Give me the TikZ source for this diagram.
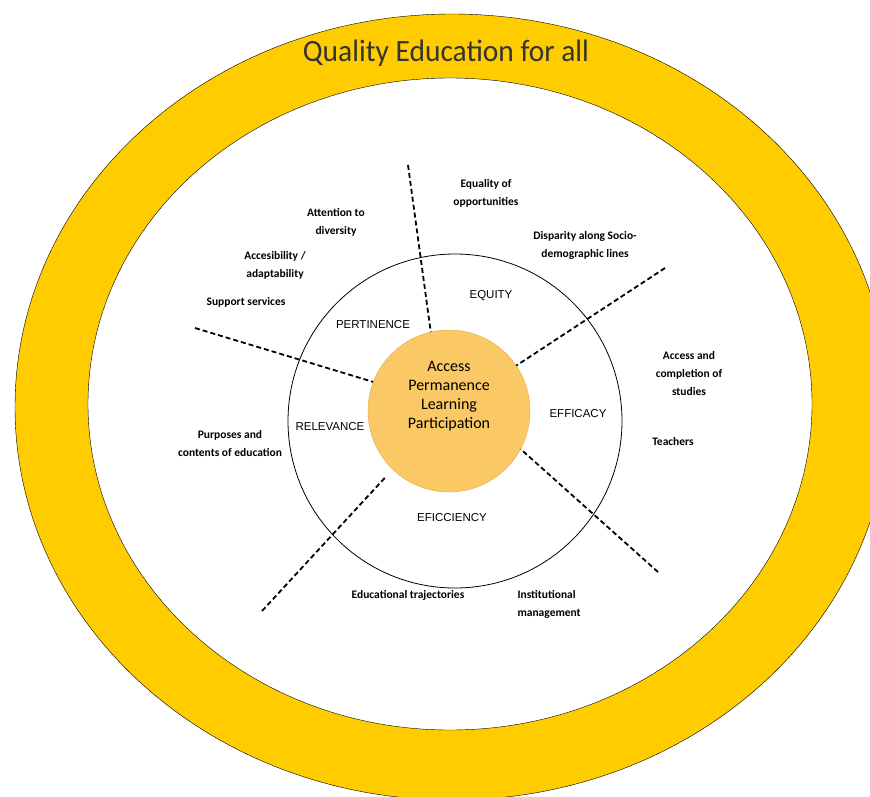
\documentclass[tikz,border=0pt]{standalone}
\usepackage{fontspec}
\setmainfont{Carlito}
\newfontfamily\capsfont{Liberation Sans}
\definecolor{ringyellow}{RGB}{255,204,0}
\definecolor{coreorange}{RGB}{250,200,100}
\definecolor{coreedge}{RGB}{225,172,70}
\definecolor{titlegray}{RGB}{51,51,51}

\begin{document}
\begin{tikzpicture}[x=1pt, y=-1pt,
	dim/.style={font=\capsfont\fontsize{11.5}{14}\selectfont},
	aspect/.style={font=\bfseries\fontsize{11.5}{18}\selectfont, align=center},
	cut/.style={line width=1.8pt, dash pattern=on 5pt off 3pt}]
	\useasboundingbox (0,0) rectangle (870,796);
	\clip (0,0) rectangle (870,796);

	% yellow ring
	\draw[fill=ringyellow] (452,407) ellipse [x radius=437, y radius=393];
	\draw[fill=white] (450,404) ellipse [x radius=362, y radius=326];
	\node[titlegray, font=\fontsize{31}{36}\selectfont, xscale=0.95] (title) at (446, 53) {Quality Education for all};

	% dimensions
	\node[circle, draw, line width=0.8pt, minimum size=334pt] (ring) at (455, 421) {};
	\node[circle, draw=coreedge, fill=coreorange, minimum size=162pt] (core) at (449, 411) {};
	\node[align=center, font=\fontsize{16}{19}\selectfont] (corelabel) at (449, 396) {Access\\Permanence\\Learning\\Participation};

	\node[dim] (pertinence) at (373, 325) {PERTINENCE};
	\node[dim] (equity) at (491, 296) {EQUITY};
	\node[dim] (efficacy) at (578, 414) {EFFICACY};
	\node[dim] (relevance) at (330, 427) {RELEVANCE};
	\node[dim] (efficiency) at (452, 518) {EFICCIENCY};

	\coordinate (cutN) at (408, 165);
	\coordinate (cutNE) at (665, 268);
	\coordinate (cutSE) at (658, 572);
	\coordinate (cutSW) at (262, 611);
	\coordinate (cutW) at (195, 328);
	\draw[cut] (cutN) -- (core.103);
	\draw[cut] (cutNE) -- (core.34);
	\draw[cut] (cutSE) -- (core.-28);
	\draw[cut, shorten >=9pt] (cutSW) -- (core.-134);
	\draw[cut] (cutW) -- (core.159);

	% aspects
	\node[aspect] (diversity) at (336, 222) {Attention to\\diversity};
	\node[aspect] (adapt) at (275, 265) {Accesibility /\\adaptability};
	\node[aspect] (support) at (246, 302) {Support services};
	\node[aspect] (equality) at (486, 193) {Equality of\\opportunities};
	\node[aspect] (disparity) at (585, 245) {Disparity along Socio-\\demographic lines};
	\node[aspect] (completion) at (689, 373) {Access and\\completion of\\studies};
	\node[aspect] (teachers) at (673, 441) {Teachers};
	\node[aspect] (purposes) at (230, 443) {Purposes and\\contents of education};
	\node[aspect] (trajectories) at (408, 595) {Educational trajectories};
	\node[aspect, align=left, anchor=west] (management) at (514, 604) {Institutional\\management};
\end{tikzpicture}
\end{document}
